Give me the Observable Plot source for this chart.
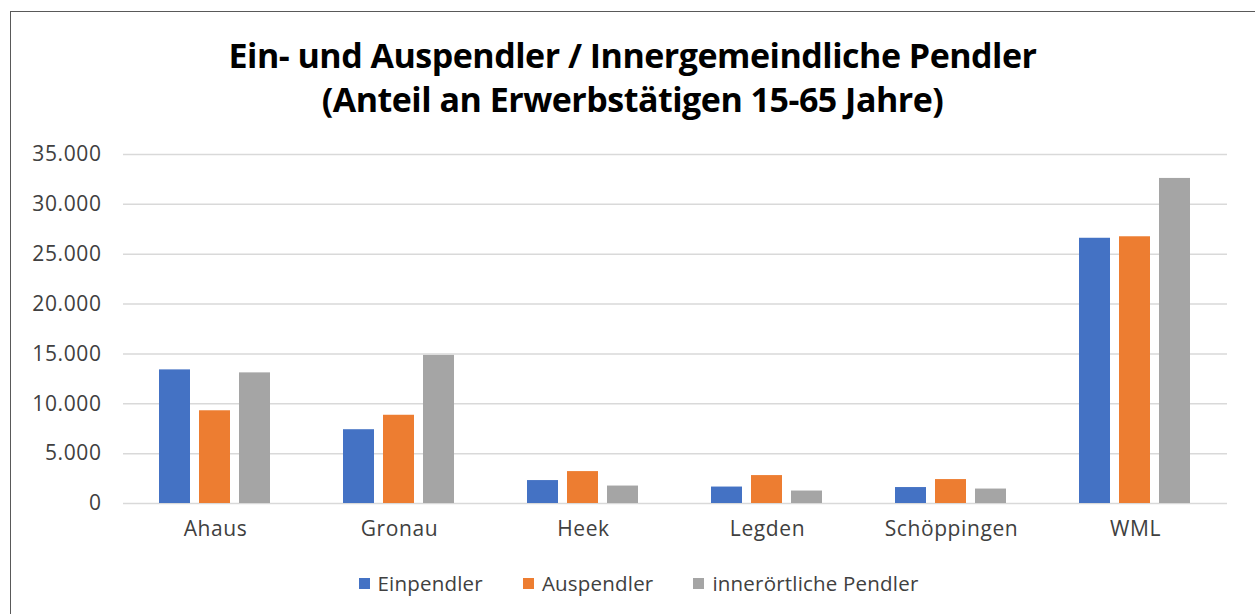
<!DOCTYPE html>
<html><head><meta charset="utf-8">
<script src="https://cdn.jsdelivr.net/npm/d3@7"></script>
<script src="https://cdn.jsdelivr.net/npm/@observablehq/plot@0.6"></script>
<style>
body{margin:0;background:#fff;font-family:"Open Sans",sans-serif;overflow:hidden;width:1255px;height:614px;position:relative}
#frame{position:absolute;left:10px;top:11px;width:1270px;height:640px;border:1px solid #595959;box-sizing:border-box}
#title{position:absolute;left:0;width:1265px;top:33px;text-align:center;font-weight:700;font-size:34px;line-height:44px;color:#000;font-family:"Open Sans",sans-serif;letter-spacing:-0.5px}
#chart{position:absolute;left:0;top:140px}
#legend{position:absolute;top:569px;left:0;width:1255px;display:flex;justify-content:center;gap:40px;font-size:20.5px;letter-spacing:0.2px;color:#404040;padding-left:22px;box-sizing:border-box}
.item{display:flex;align-items:center}
.sw{width:11px;height:11px;margin-right:8px}
</style></head>
<body>
<div id="frame"></div>
<div id="title">Ein- und Auspendler / Innergemeindliche Pendler<br>(Anteil an Erwerbstätigen 15-65 Jahre)</div>
<div id="chart"></div>
<div id="legend"></div>
<script>
const categories = ["Ahaus","Gronau","Heek","Legden","Schöppingen","WML"];
const seriesNames = ["Einpendler","Auspendler","innerörtliche Pendler"];
const einpendler = [13400, 7400, 2300, 1650, 1600, 26600];
const auspendler = [9300, 8850, 3200, 2800, 2400, 26750];
const innerortlich = [13100, 14850, 1750, 1250, 1450, 32600];
const colors = ["#4472C4","#ED7D31","#A5A5A5"];
const yTicks = [0,5000,10000,15000,20000,25000,30000,35000];

const series = [einpendler, auspendler, innerortlich];
const data = [];
categories.forEach((c,i)=>series.forEach((s,j)=>data.push({cat:c, series:seriesNames[j], value:s[i]})));

const fmt = d => d3.format(",")(d).replace(/,/g,".");

const plot = Plot.plot({
  width:1255, height:410,
  marginLeft:122, marginRight:27, marginTop:14, marginBottom:47,
  style:{fontFamily:"Open Sans, sans-serif", fontSize:"21px", letterSpacing:"0.6px", color:"#404040", background:"transparent", overflow:"visible"},
  fx:{domain:categories, padding:0, label:null, axis:"bottom", tickSize:0, tickPadding:18},
  x:{domain:seriesNames, axis:null, paddingInner:0.22, paddingOuter:0.858},
  y:{domain:[0,35000], ticks:yTicks, tickFormat:fmt, label:null, tickSize:0, tickPadding:22},
  color:{domain:seriesNames, range:colors},
  marks:[
    Plot.gridY(yTicks,{stroke:"#d9d9d9", strokeOpacity:1, strokeWidth:1.5}),
    Plot.barY(data,{fx:"cat", x:"series", y:"value", fill:"series"})
  ]
});
document.getElementById("chart").appendChild(plot);

const lg = document.getElementById("legend");
seriesNames.forEach((n,i)=>{
  const it=document.createElement("div");it.className="item";
  it.innerHTML=`<span class="sw" style="background:${colors[i]}"></span><span>${n}</span>`;
  lg.appendChild(it);
});
</script>
</body></html>
